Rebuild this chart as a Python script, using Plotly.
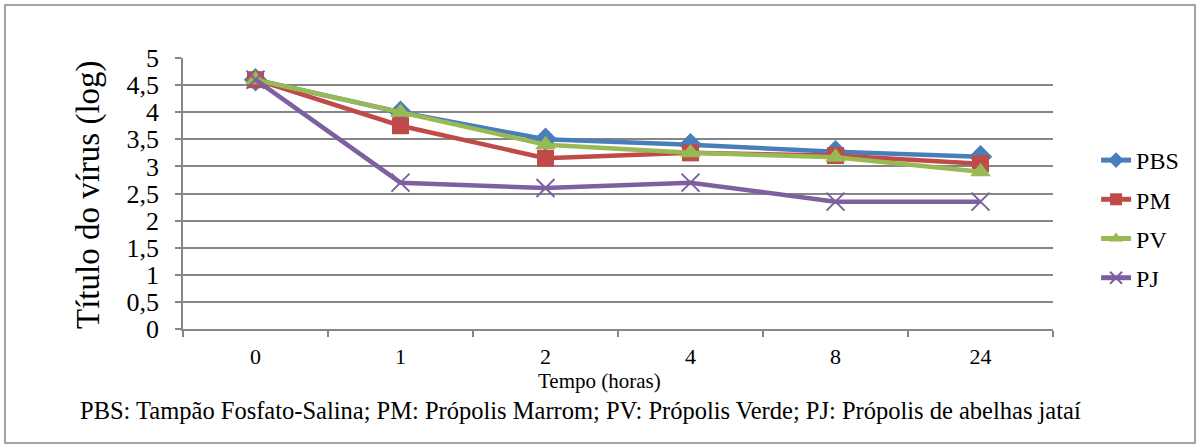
import plotly.graph_objects as go

categories = ["0", "1", "2", "4", "8", "24"]
pbs = [4.6, 4.0, 3.5, 3.4, 3.27, 3.18]
pm = [4.6, 3.75, 3.15, 3.25, 3.2, 3.05]
pv = [4.6, 4.0, 3.4, 3.25, 3.17, 2.9]
pj = [4.6, 2.7, 2.6, 2.7, 2.35, 2.35]
y_ticks = [0, 0.5, 1, 1.5, 2, 2.5, 3, 3.5, 4, 4.5, 5]
y_tick_labels = ["0", "0,5", "1", "1,5", "2", "2,5", "3", "3,5", "4", "4,5", "5"]

FONT = "Liberation Serif"
L, R, T, B = 183, 1053, 58, 329
PW, PH = R - L, B - T


def px(x):
    return (x - L) / PW


def py(y):
    return (B - y) / PH


fig = go.Figure()
series = [
    ("PBS", pbs, "#4A7EBB", "diamond", 18),
    ("PM", pm, "#BE4B48", "square", 17),
    ("PV", pv, "#98B954", "triangle-up", 18),
]
for name, vals, color, sym, size in series:
    fig.add_trace(go.Scatter(
        x=categories, y=vals, name=name, mode="lines+markers", legendgroup=name,
        line=dict(color=color, width=4.5),
        marker=dict(symbol=sym, size=size, color=color),
    ))
fig.add_trace(go.Scatter(
    x=categories, y=pj, name="PJ", mode="lines+markers", legendgroup="PJ",
    line=dict(color="#7D60A0", width=4.5),
    marker=dict(symbol="x-thin", size=18, color="#7D60A0",
                line=dict(color="#7D60A0", width=2)),
))

fig.update_layout(
    width=1200, height=448,
    margin=dict(l=L, r=1200 - R, t=T, b=448 - B),
    paper_bgcolor="white", plot_bgcolor="white",
    font=dict(family=FONT, color="black", size=22),
    showlegend=True,
    legend=dict(x=1.0495, y=py(219), xanchor="left", yanchor="middle",
                font=dict(family=FONT, size=24, color="black"), tracegroupgap=5,
                itemsizing="constant", bgcolor="rgba(0,0,0,0)"),
    xaxis=dict(
        type="category", tickson="boundaries", ticks="outside", ticklen=6,
        tickcolor="#868686", tickwidth=1.5,
        showline=True, linecolor="#868686", linewidth=1.5,
        showgrid=False, zeroline=False,
        tickfont=dict(family=FONT, size=22, color="black"),
        ticklabelstandoff=7,
        range=[-0.5, 5.5],
    ),
    yaxis=dict(
        range=[0, 5], tickvals=y_ticks, ticktext=y_tick_labels,
        ticks="outside", ticklen=6, tickcolor="#868686", tickwidth=1.5,
        showline=True, linecolor="#868686", linewidth=1.5,
        showgrid=True, gridcolor="#868686", gridwidth=1.5,
        zeroline=False,
        tickfont=dict(family=FONT, size=26, color="black"),
        ticklabelstandoff=11,
    ),
    annotations=[
        dict(
            text="PBS: Tampão Fosfato-Salina; PM: Própolis Marrom; PV: Própolis Verde; PJ: Própolis de abelhas jataí",
            xref="paper", yref="paper", x=px(78), y=py(410),
            xanchor="left", yanchor="middle", showarrow=False,
            font=dict(family=FONT, size=24.5, color="black"),
        ),
        dict(
            text="Tempo (horas)", xref="paper", yref="paper", x=px(599), y=py(381),
            xanchor="center", yanchor="middle", showarrow=False,
            font=dict(family=FONT, size=21, color="black"),
        ),
        dict(
            text="Título do vírus (log)", xref="paper", yref="paper", x=px(88), y=py(195),
            xanchor="center", yanchor="middle", showarrow=False, textangle=-90,
            font=dict(family=FONT, size=33, color="black"),
        ),
    ],
    shapes=[dict(
        type="rect", xref="paper", yref="paper",
        x0=px(5), x1=px(1195), y0=py(443), y1=py(5),
        line=dict(color="#868686", width=1.5), fillcolor="rgba(0,0,0,0)",
        layer="below",
    )],
)

fig.write_html("out.html")
